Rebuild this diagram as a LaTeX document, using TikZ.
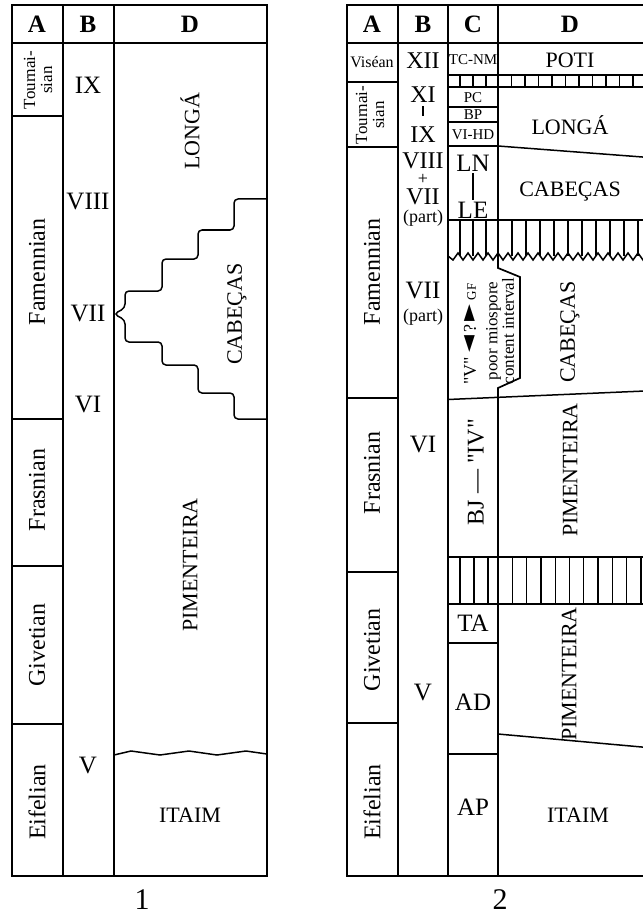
\documentclass[tikz,border=0pt]{standalone}
\usepackage{fontspec}
\setmainfont{Liberation Serif}
\newfontfamily\rawserif{Liberation Serif}
\newfontfamily\djv{DejaVu Sans}
\usetikzlibrary{calc}
\begin{document}
\begin{tikzpicture}[x=1pt,y=-1pt,
  frame/.style={line width=1.7pt},
  bline/.style={line width=1.5pt},
  thin/.style={line width=1.3pt},
  hdr/.style={font=\fontsize{25}{26}\selectfont\bfseries, inner sep=0pt},
  stage/.style={font=\fontsize{24}{25}\selectfont, rotate=90, inner sep=0pt},
  smstage/.style={font=\fontsize{16}{16}\selectfont, inner sep=0pt, align=center},
  zone/.style={font=\fontsize{25}{25}\selectfont, inner sep=0pt},
  szone/.style={font=\fontsize{24}{24}\selectfont, inner sep=0pt, text height=0.64em, text depth=0pt},
  fm/.style={font=\fontsize{22}{22}\selectfont, inner sep=0pt},
  rfm/.style={fm, rotate=90},
  sm/.style={font=\fontsize{15}{15}\selectfont, inner sep=0pt},
  part/.style={font=\fontsize{18}{18}\selectfont, inner sep=0pt, text height=0.6em, text depth=0.1em},
  num/.style={font=\fontsize{30}{30}\selectfont, inner sep=0pt, anchor=base, text depth=0pt},
]
\useasboundingbox (0,0) rectangle (642,917);
\fill[white] (0,0) rectangle (642,917);

% ================= PANEL 1 =================
\draw[frame] (12,5) rectangle (267,876);
\draw[frame] (12,43) -- (267,43);
\draw[frame] (63,5) -- (63,876);
\draw[frame] (114,5) -- (114,876);
\foreach \yy in {116,419,566,724} \draw[bline] (12,\yy) -- (63,\yy);

\node[hdr] (p1A) at (37,24) {A};
\node[hdr] (p1B) at (88,24) {B};
\node[hdr] (p1D) at (190,24) {D};

\node[smstage, font=\fontsize{17}{17}\selectfont, rotate=90] (p1tou) at (38,80) {Tournai-\\sian};
\node[stage] (p1fam) at (37,272) {Famennian};
\node[stage] (p1fra) at (37,490) {Frasnian};
\node[stage] (p1giv) at (37,645) {Givetian};
\node[stage] (p1eif) at (37,802) {Eifelian};

\node[zone] (p1ix) at (88,85) {IX};
\node[zone] (p1viii) at (88,202) {VIII};
\node[zone] (p1vii) at (88,314) {VII};
\node[zone] (p1vi) at (88,405) {VI};
\node[zone] (p1v) at (88,765) {V};

\node[rfm] (p1lon) at (190,131) {LONGÁ};
\node[rfm] (p1cab) at (237,314) {CABEÇAS};
\node[rfm] (p1pim) at (190,565) {PIMENTEIRA};
\node[fm] (p1ita) at (190,815) {ITAIM};

\draw[bline, rounded corners=4pt] (267,199) -- (234,199) -- (234,230) -- (198,230) -- (198,259)
  -- (162,259) -- (162,291) -- (125,291) -- (125,308) -- (114,314) -- (125,320) -- (125,342)
  -- (162,342) -- (162,365) -- (198,365) -- (198,393) -- (234,393) -- (234,419) -- (267,419);
\draw[bline] (114,755) -- (131,751) -- (160,755) -- (189,751) -- (217,755) -- (246,751) -- (267,754);

\node[num] (lab1) at (142,909) {1};

% ================= PANEL 2 =================
\draw[frame] (645,5) -- (347,5) -- (347,876) -- (645,876);
\draw[frame] (347,43) -- (645,43);
\draw[frame] (398,5) -- (398,876);
\draw[frame] (448,5) -- (448,876);
\draw[frame] (498,5) -- (498,268) -- (520,277) -- (520,378) -- (498,388) -- (498,876);
\foreach \yy in {82,147,398,572,723} \draw[bline] (347,\yy) -- (398,\yy);

\node[hdr] (p2A) at (372,24) {A};
\node[hdr] (p2B) at (423,24) {B};
\node[hdr] (p2C) at (473,24) {C};
\node[hdr] (p2D) at (570,24) {D};

\node[smstage] (p2vis) at (372,62) {Viséan};
\node[smstage, font=\fontsize{17}{17}\selectfont, rotate=90] (p2tou) at (370,115) {Tournai-\\sian};
\node[stage] (p2fam) at (372,272) {Famennian};
\node[stage] (p2fra) at (372,473) {Frasnian};
\node[stage] (p2giv) at (372,650) {Givetian};
\node[stage] (p2eif) at (372,802) {Eifelian};

% B column
\node[szone] (p2xii) at (423,65) {XII};
\node[szone] (p2xi) at (423,99) {XI};
\node[szone] (p2ix) at (423,139) {IX};
\draw[line width=1.4pt] ($(p2xi.south)+(0,4)$) coordinate (xib) -- ++(0,10) coordinate (xie);
\node[szone] (p2viii) at (423,165) {VIII};
\node[font=\fontsize{18}{18}\selectfont, inner sep=0pt, text height=0.5em, text depth=0pt] (p2plus) at (423,182) {+};
\node[szone] (p2vii) at (423,201) {VII};
\node[part] (p2part) at (423,220) {(part)};
\node[szone, font=\fontsize{25}{25}\selectfont] (p2vii2) at (423,295) {VII};
\node[part] (p2part2) at (423,319) {(part)};
\node[zone] (p2vi) at (423,445) {VI};
\node[zone] (p2v) at (423,692) {V};

% C column
\node[sm] (tcnm) at (473,60) {TC-NM};
\node[sm] (pc) at (473,98) {PC};
\node[sm] (bp) at (473,115) {BP};
\node[sm] (vihd) at (473,135) {VI-HD};
\draw[thin] (448,107) -- (498,107);
\draw[thin] (448,122) -- (498,122);
\draw[bline] (448,146) -- (498,146);
\node[zone] (ln) at (473,163) {LN};
\node[zone] (le) at (473,210) {LE};
\draw[line width=1.4pt] ($(ln.south)+(0,2)$) -- ($(le.north)+(0,-2)$);

% band 1
\draw[bline] (448,75) -- (645,75);
\draw[bline] (448,87) -- (645,87);
\foreach \xx in {460,473,486} \draw[bline] (\xx,75) -- (\xx,87);
\foreach \k in {1,...,11} \draw[bline] ({498+13.5*\k},75) -- ({498+13.5*\k},87);

% band 2
\draw[bline] (448,220) -- (645,220);
\draw[bline] (448,256) \foreach \i in {0,...,19} { -- ({453+10*\i},260) -- ({458+10*\i},253) };
\foreach \xx in {460,473,486} \draw[thin] (\xx,220) -- (\xx,256);
\foreach \k in {1,...,10} \draw[thin] ({498+14*\k},220) -- ({498+14*\k},256);

% bulge texts
\node[font=\fontsize{18}{18}\rawserif\selectfont, inner sep=0pt, rotate=90] (vgf) at (470,334)
  {"V" {\djv\fontsize{22}{22}\selectfont ◄}\,?\,{\djv\fontsize{22}{22}\selectfont ►} {\fontsize{13}{13}\selectfont GF}};
\node[font=\fontsize{17}{15}\selectfont, inner sep=0pt, rotate=90, align=center] (poor) at (500,331)
  {poor miospore\\content interval};

\draw[bline] (448,399.5) -- (645,391);

% Frasnian C
\node[font=\fontsize{24}{24}\rawserif\selectfont, inner sep=0pt, rotate=90] (bj) at (476,472) {BJ — "IV"};

% band 3
\draw[bline] (448,557) -- (645,557);
\draw[bline] (448,604) -- (645,604);
\foreach \xx in {460,474,488} \draw[thin] (\xx,557) -- (\xx,604);
\foreach \k in {1,...,10} \draw[thin] ({498+14.3*\k},557) -- ({498+14.3*\k},604);

\node[zone] (ta) at (473,623) {TA};
\draw[bline] (448,643) -- (498,643);
\node[zone] (ad) at (473,702) {AD};
\draw[bline] (448,754) -- (498,754);
\node[zone] (ap) at (473,807) {AP};

% D column
\node[fm] (poti) at (570,60) {POTI};
\node[fm] (lon2) at (570,125) {LONGÁ};
\draw[bline] (498,146) -- (645,157.2);
\node[fm] (cab2) at (570,192) {CABEÇAS};
\node[rfm] (cab3) at (570,332) {CABEÇAS};
\node[rfm] (pim2) at (570,470) {PIMENTEIRA};
\node[rfm] (pim3) at (569,674) {PIMENTEIRA};
\draw[bline] (498,734) -- (645,747.3);
\node[fm] (ita2) at (578,815) {ITAIM};

\node[num] (lab2) at (500,909) {2};
\end{tikzpicture}
\end{document}
